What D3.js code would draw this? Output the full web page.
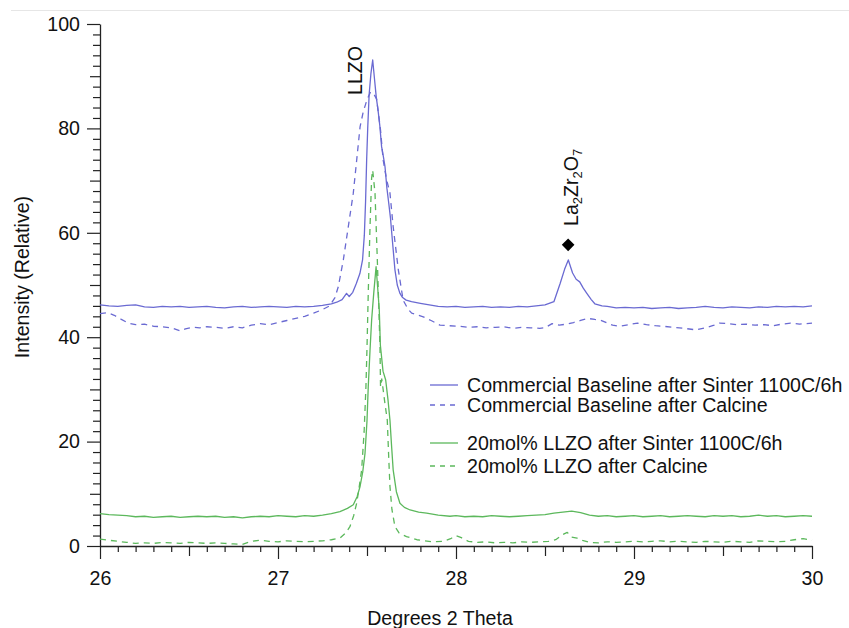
<!DOCTYPE html>
<html>
<head>
<meta charset="utf-8">
<script src="https://cdn.jsdelivr.net/npm/d3@7"></script>
<style>
  html, body { margin: 0; padding: 0; background: #fff; }
  svg text { font-family: "Liberation Sans", Arial, Helvetica, sans-serif; fill: #111; }
</style>
</head>
<body>
<svg id="chart" width="849" height="628"></svg>
<script>
// XRD patterns, 2-theta (degrees) vs relative intensity
const commercialSinter = [
  [26.00,46.2],[26.05,46.0],[26.10,45.9],[26.15,46.1],[26.20,46.2],[26.25,45.8],[26.30,45.7],[26.35,45.9],
  [26.40,45.8],[26.45,45.9],[26.50,45.7],[26.55,45.8],[26.60,45.9],[26.65,45.7],[26.70,45.6],[26.75,45.8],
  [26.80,45.9],[26.85,45.7],[26.90,45.8],[26.95,45.9],[27.00,45.8],[27.05,45.7],[27.10,45.9],[27.15,45.8],
  [27.20,45.9],[27.25,46.1],[27.30,46.4],[27.33,46.7],[27.36,47.2],[27.385,48.4],[27.40,47.8],[27.42,48.6],
  [27.44,50.3],[27.46,52.2],[27.475,54.8],[27.485,59.5],[27.492,66.0],[27.498,73.9],[27.504,80.0],
  [27.512,86.5],[27.522,90.5],[27.532,93.1],[27.542,89.5],[27.552,86.0],[27.562,83.5],[27.572,80.5],
  [27.582,76.5],[27.592,74.6],[27.601,72.7],[27.612,68.5],[27.622,65.7],[27.632,62.8],[27.644,58.0],
  [27.657,52.9],[27.670,50.0],[27.685,48.4],[27.70,47.6],[27.72,47.1],[27.75,46.8],[27.80,46.5],
  [27.85,46.2],[27.90,45.9],[27.95,45.8],[28.00,45.9],[28.05,45.7],[28.10,45.8],[28.15,45.9],[28.20,45.7],
  [28.25,45.8],[28.30,45.7],[28.35,45.9],[28.40,45.8],[28.45,46.0],[28.50,46.2],[28.55,46.8],[28.585,50.3],
  [28.61,53.0],[28.631,54.8],[28.655,52.3],[28.675,51.1],[28.695,50.6],[28.715,49.4],[28.735,48.4],
  [28.76,47.2],[28.78,46.4],[28.82,46.0],[28.85,45.9],[28.90,45.6],[28.95,45.7],[29.00,45.6],[29.05,45.7],
  [29.10,45.5],[29.15,45.6],[29.20,45.7],[29.25,45.5],[29.30,45.6],[29.35,45.7],[29.40,45.9],[29.45,45.7],
  [29.50,45.6],[29.55,45.8],[29.60,45.7],[29.65,45.6],[29.70,45.8],[29.75,45.7],[29.80,45.9],[29.85,45.8],
  [29.90,45.9],[29.95,45.8],[30.00,46.0]
];

const commercialCalcine = [
  [26.00,44.5],[26.04,44.7],[26.08,44.2],[26.12,43.4],[26.16,42.7],[26.20,42.4],[26.25,42.5],[26.30,42.1],
  [26.35,42.0],[26.40,41.8],[26.45,41.2],[26.48,41.6],[26.52,41.9],[26.56,41.8],[26.60,42.0],[26.65,41.9],
  [26.70,41.7],[26.75,42.0],[26.80,41.8],[26.85,42.3],[26.90,42.6],[26.95,42.4],[27.00,42.8],[27.05,43.2],
  [27.10,43.6],[27.15,44.0],[27.20,44.6],[27.25,45.3],[27.29,46.0],[27.32,47.6],[27.339,49.7],[27.367,54.8],
  [27.395,61.2],[27.423,67.6],[27.442,73.9],[27.461,80.3],[27.479,83.2],[27.50,85.5],[27.52,87.0],
  [27.54,86.5],[27.554,85.6],[27.576,79.7],[27.591,73.9],[27.61,70.2],[27.629,67.6],[27.647,61.2],
  [27.676,52.9],[27.703,47.1],[27.73,45.4],[27.751,44.6],[27.816,43.9],[27.86,43.2],[27.91,42.3],
  [27.96,42.2],[28.02,42.1],[28.07,41.9],[28.12,42.0],[28.17,41.8],[28.22,41.9],[28.27,42.0],[28.32,41.7],
  [28.37,41.9],[28.42,41.8],[28.47,41.7],[28.50,41.8],[28.54,42.6],[28.58,42.3],[28.62,42.5],[28.66,42.8],
  [28.70,43.2],[28.74,43.6],[28.78,43.4],[28.81,43.3],[28.85,42.7],[28.88,42.3],[28.92,42.1],[28.97,42.4],
  [29.02,42.7],[29.07,42.4],[29.12,42.2],[29.16,42.1],[29.22,41.9],[29.28,41.7],[29.35,41.4],[29.40,41.8],
  [29.45,42.3],[29.48,42.7],[29.53,42.6],[29.58,42.4],[29.63,42.5],[29.68,42.3],[29.73,42.4],[29.78,42.2],
  [29.83,42.5],[29.88,42.7],[29.93,42.5],[30.00,42.7]
];

const llzoSinter = [
  [26.00,6.2],[26.05,6.0],[26.10,5.9],[26.15,5.8],[26.20,5.6],[26.25,5.7],[26.30,5.5],[26.35,5.6],
  [26.40,5.7],[26.45,5.5],[26.50,5.6],[26.55,5.7],[26.60,5.6],[26.65,5.7],[26.70,5.5],[26.75,5.6],
  [26.80,5.4],[26.85,5.6],[26.90,5.7],[26.95,5.6],[27.00,5.8],[27.05,5.7],[27.10,5.6],[27.15,5.8],
  [27.20,5.7],[27.25,5.9],[27.30,6.2],[27.348,6.6],[27.39,7.2],[27.423,7.9],[27.445,9.5],[27.461,11.4],
  [27.476,14.2],[27.489,17.8],[27.50,24.0],[27.507,30.5],[27.517,37.5],[27.526,43.3],[27.538,48.5],
  [27.551,53.5],[27.560,49.5],[27.569,45.2],[27.575,38.5],[27.590,33.5],[27.605,31.8],[27.618,28.0],
  [27.629,24.1],[27.638,19.2],[27.647,14.6],[27.665,10.4],[27.685,8.2],[27.71,7.4],[27.742,6.9],
  [27.79,6.5],[27.835,6.3],[27.90,5.9],[27.966,5.7],[28.00,5.8],[28.05,5.6],[28.10,5.7],[28.15,5.6],
  [28.20,5.8],[28.25,5.7],[28.30,5.6],[28.35,5.7],[28.40,5.8],[28.45,5.9],[28.50,6.0],[28.55,6.3],
  [28.60,6.5],[28.65,6.7],[28.70,6.4],[28.75,5.9],[28.80,5.7],[28.85,5.8],[28.90,5.6],[28.95,5.7],
  [29.00,5.8],[29.05,5.6],[29.10,5.7],[29.15,5.8],[29.20,5.6],[29.25,5.7],[29.30,5.8],[29.35,5.7],
  [29.40,5.6],[29.45,5.8],[29.50,5.7],[29.55,5.8],[29.60,5.6],[29.65,5.7],[29.70,5.9],[29.75,5.7],
  [29.80,5.8],[29.85,5.6],[29.90,5.7],[29.95,5.8],[30.00,5.7]
];

const llzoCalcine = [
  [26.00,1.3],[26.05,1.1],[26.10,0.9],[26.15,0.7],[26.20,0.5],[26.25,0.6],[26.30,0.5],[26.35,0.7],
  [26.40,0.6],[26.45,0.5],[26.50,0.7],[26.55,0.6],[26.60,0.5],[26.65,0.6],[26.70,0.5],[26.75,0.4],
  [26.80,0.3],[26.85,0.9],[26.90,1.1],[26.95,0.9],[27.00,0.8],[27.05,1.0],[27.10,0.9],[27.15,0.8],
  [27.20,0.9],[27.25,1.0],[27.30,1.2],[27.348,1.5],[27.38,2.5],[27.404,3.7],[27.425,5.8],[27.442,8.2],
  [27.457,11.5],[27.470,14.6],[27.484,22.0],[27.494,30.5],[27.500,38.0],[27.507,48.4],[27.517,61.2],
  [27.526,70.5],[27.532,72.0],[27.545,67.6],[27.558,54.8],[27.567,45.0],[27.573,38.0],[27.576,30.5],
  [27.583,32.0],[27.600,27.5],[27.614,24.1],[27.622,17.0],[27.629,11.4],[27.640,7.0],[27.657,3.7],
  [27.68,2.5],[27.722,1.8],[27.78,1.2],[27.87,0.8],[27.93,0.9],[27.97,1.4],[28.00,2.0],[28.03,1.6],
  [28.07,0.9],[28.12,0.7],[28.17,0.8],[28.22,0.6],[28.27,0.7],[28.32,0.6],[28.37,0.8],[28.42,0.7],
  [28.47,0.8],[28.52,0.9],[28.56,1.2],[28.60,2.2],[28.625,2.6],[28.65,1.7],[28.68,1.5],[28.71,1.1],
  [28.75,0.7],[28.80,0.6],[28.85,0.8],[28.90,0.7],[28.95,0.8],[29.00,0.9],[29.05,0.8],[29.10,0.9],
  [29.15,1.0],[29.20,0.8],[29.25,0.9],[29.30,0.8],[29.35,0.7],[29.40,0.9],[29.45,0.8],[29.50,0.7],
  [29.55,0.9],[29.60,0.8],[29.65,0.7],[29.70,1.0],[29.75,0.9],[29.80,0.8],[29.85,0.9],[29.90,1.2],
  [29.95,1.4],[30.00,1.1]
];

const seriesNames = [
  "Commercial Baseline after Sinter 1100C/6h",
  "Commercial Baseline after Calcine",
  "20mol% LLZO after Sinter 1100C/6h",
  "20mol% LLZO after Calcine"
];

const xTicks = [26, 27, 28, 29, 30];
const yTicks = [0, 20, 40, 60, 80, 100];

// phase annotations: [theta, intensity]
const llzoLabelAt = [27.47, 86.4];
const pyrochloreLabelAt = [28.685, 61.3];
const pyrochloreMarker = [28.63, 57.7];

const blue = "#6a6ad2";
const green = "#5cb85c";
const fontSize = 19.6;

const svg = d3.select("#chart");

// faint frame edge along the top
svg.append("line")
  .attr("x1", 11).attr("x2", 849).attr("y1", 10.5).attr("y2", 10.5)
  .attr("stroke", "#e6e6e6").attr("stroke-width", 1);

const x = d3.scaleLinear().domain([26, 30]).range([100, 812]);
const y = d3.scaleLinear().domain([0, 100]).range([546, 24]);

const axisColor = "#222";

function styleAxis(g) {
  g.selectAll("path.domain").attr("stroke", axisColor).attr("stroke-width", 1.3);
  g.selectAll(".tick line").attr("stroke", axisColor).attr("stroke-width", 1.2);
  g.selectAll(".tick text").attr("font-size", fontSize).attr("fill", "#111")
    .attr("font-family", "'Liberation Sans', Arial, Helvetica, sans-serif");
}

// x axis: minor every 0.1, medium every 0.5, major every 1
const xMinor = d3.range(260, 301).map(v => v / 10).filter(v => Math.round(v * 10) % 5 !== 0);
const xMedium = [26.5, 27.5, 28.5, 29.5];
const gx = svg.append("g").attr("transform", `translate(0,${y(0)})`);
gx.append("g").call(d3.axisBottom(x).tickValues(xMinor).tickSize(6).tickFormat("")).call(styleAxis)
  .select("path.domain").remove();
gx.append("g").call(d3.axisBottom(x).tickValues(xMedium).tickSize(10).tickFormat("")).call(styleAxis)
  .select("path.domain").remove();
gx.append("g").call(d3.axisBottom(x).tickValues(xTicks).tickSizeInner(13).tickSizeOuter(0)
  .tickPadding(12).tickFormat(d3.format("d"))).call(styleAxis);

// y axis: minor every 2, medium every 10, major every 20
const yMinor = d3.range(0, 101, 2).filter(v => v % 10 !== 0);
const yMedium = [10, 30, 50, 70, 90];
const gy = svg.append("g").attr("transform", `translate(${x(26)},0)`);
gy.append("g").call(d3.axisLeft(y).tickValues(yMinor).tickSize(7).tickFormat("")).call(styleAxis)
  .select("path.domain").remove();
gy.append("g").call(d3.axisLeft(y).tickValues(yMedium).tickSize(10).tickFormat("")).call(styleAxis)
  .select("path.domain").remove();
gy.append("g").call(d3.axisLeft(y).tickValues(yTicks).tickSizeInner(13).tickSizeOuter(0)
  .tickPadding(7).tickFormat(d3.format("d"))).call(styleAxis);

// axis titles
svg.append("text")
  .attr("x", 440).attr("y", 625)
  .attr("text-anchor", "middle").attr("font-size", fontSize)
  .text("Degrees 2 Theta");

svg.append("text")
  .attr("transform", "translate(29,277) rotate(-90)")
  .attr("text-anchor", "middle").attr("font-size", fontSize)
  .text("Intensity (Relative)");

// patterns
const line = d3.line().x(d => x(d[0])).y(d => y(d[1]));
const series = [
  { data: commercialSinter, color: blue, dash: null },
  { data: commercialCalcine, color: blue, dash: "6,5" },
  { data: llzoSinter, color: green, dash: null },
  { data: llzoCalcine, color: green, dash: "6,5" }
];

svg.append("g").selectAll("path")
  .data(series)
  .join("path")
  .attr("d", s => line(s.data))
  .attr("fill", "none")
  .attr("stroke", s => s.color)
  .attr("stroke-width", 1.3)
  .attr("stroke-linejoin", "round")
  .attr("stroke-dasharray", s => s.dash);

// phase labels
svg.append("text")
  .attr("transform", `translate(${x(llzoLabelAt[0])},${y(llzoLabelAt[1])}) rotate(-90)`)
  .attr("font-size", fontSize)
  .text("LLZO");

const pyro = svg.append("text")
  .attr("transform", `translate(${x(pyrochloreLabelAt[0])},${y(pyrochloreLabelAt[1])}) rotate(-90)`)
  .attr("font-size", fontSize);
pyro.append("tspan").text("La");
pyro.append("tspan").attr("font-size", 13).attr("dy", 4).text("2");
pyro.append("tspan").attr("dy", -4).text("Zr");
pyro.append("tspan").attr("font-size", 13).attr("dy", 4).text("2");
pyro.append("tspan").attr("dy", -4).text("O");
pyro.append("tspan").attr("font-size", 13).attr("dy", 4).text("7");

svg.append("path")
  .attr("d", d3.symbol(d3.symbolSquare, 80)())
  .attr("transform", `translate(${x(pyrochloreMarker[0])},${y(pyrochloreMarker[1])}) rotate(45)`)
  .attr("fill", "#000");

// legend
const legendRows = [385, 405, 443, 466];
const legend = svg.append("g");
series.forEach((s, i) => {
  const ly = legendRows[i];
  legend.append("line")
    .attr("x1", 430).attr("x2", 458).attr("y1", ly).attr("y2", ly)
    .attr("stroke", s.color).attr("stroke-width", 1.3)
    .attr("stroke-dasharray", s.dash ? "5,5" : null);
  legend.append("text")
    .attr("x", 467).attr("y", ly + 7)
    .attr("font-size", fontSize)
    .text(seriesNames[i]);
});
</script>
</body>
</html>
